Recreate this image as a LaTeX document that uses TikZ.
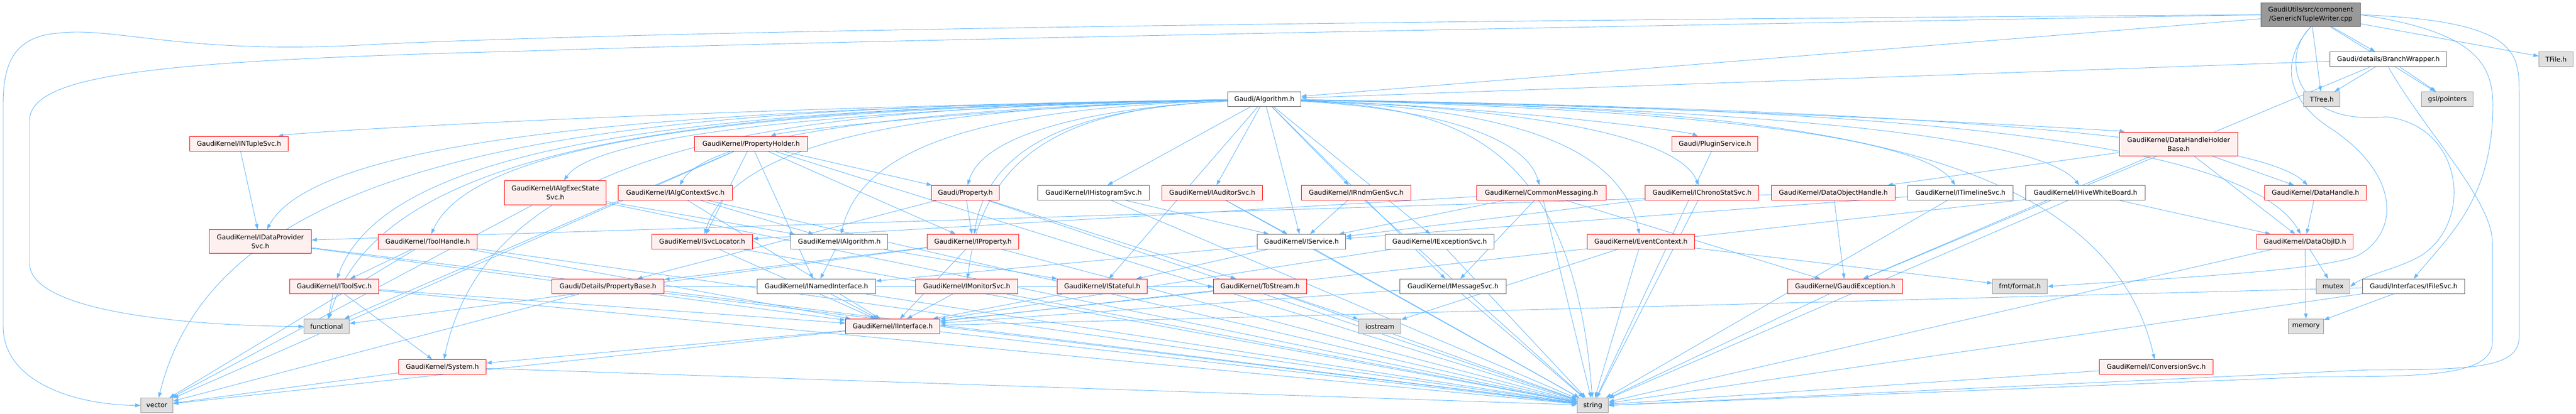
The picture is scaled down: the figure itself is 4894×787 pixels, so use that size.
\documentclass[tikz,border=0pt]{standalone}
\usepackage{fontspec}
\setmainfont{DejaVu Sans}
\usetikzlibrary{arrows.meta,calc}
\pgfdeclarelayer{bglayer}
\pgfdeclarelayer{edgelayer}
\pgfsetlayers{bglayer,edgelayer,main}
\definecolor{edgeblue}{HTML}{63B8FF}
\definecolor{redline}{HTML}{FF0000}
\definecolor{redfill}{HTML}{FFF0F0}
\definecolor{grayline}{HTML}{666666}
\definecolor{leafline}{HTML}{999999}
\definecolor{leaffill}{HTML}{E0E0E0}
\definecolor{topfill}{HTML}{999999}
\newcommand\mynd[6]{\node[#1, minimum width=#4pt, minimum height=#5pt] (#2) at (#3) {#6};}
\begin{document}
\begin{tikzpicture}[x=1pt,y=-1pt,
  base/.style={rectangle, line width=1.1pt, inner sep=0pt, anchor=north west, align=center,
    font=\fontsize{12.5}{17}\selectfont},
  rednode/.style={base, draw=redline, fill=redfill},
  graynode/.style={base, draw=grayline, fill=white},
  leafnode/.style={base, draw=leafline, fill=leaffill},
  topnode/.style={base, draw=grayline, fill=topfill},
  edge/.style={draw=edgeblue, line width=0.9pt, -{Triangle[length=10pt,width=7pt]}}]
\begin{pgfonlayer}{bglayer}
\fill[white] (0,0) rectangle (4894,787);
\end{pgfonlayer}
\useasboundingbox (0,0) rectangle (4894,787);
% rank 0-2
\mynd{topnode}{top}{4295,5}{189}{45}{GaudiUtils/src/component\\/GenericNTupleWriter.cpp}
\mynd{graynode}{bw}{4426,98}{222}{28}{Gaudi/details/BranchWrapper.h}
\mynd{leafnode}{tfile}{4823,98}{65}{28}{TFile.h}
\mynd{graynode}{algo}{2332,174}{139}{28}{Gaudi/Algorithm.h}
\mynd{leafnode}{ttree}{4376,174}{69}{28}{TTree.h}
\mynd{leafnode}{gsl}{4600,174}{98}{28}{gsl/pointers}
% rank 3
\mynd{rednode}{ntuple}{360,259}{187}{28}{GaudiKernel/INTupleSvc.h}
\mynd{rednode}{pholder}{1319,259}{215}{28}{GaudiKernel/PropertyHolder.h}
\mynd{rednode}{plugin}{3176,259}{163}{28}{Gaudi/PluginService.h}
\mynd{rednode}{dhhb}{4026,251}{225}{45}{GaudiKernel/DataHandleHolder\\Base.h}
% rank 4
\mynd{rednode}{execstate}{958,343}{193}{46}{GaudiKernel/IAlgExecState\\Svc.h}
\mynd{rednode}{algctx}{1174,352}{217}{28}{GaudiKernel/IAlgContextSvc.h}
\mynd{rednode}{prop}{1769,352}{129}{28}{Gaudi/Property.h}
\mynd{graynode}{histo}{1971,352}{212}{28}{GaudiKernel/IHistogramSvc.h}
\mynd{rednode}{auditor}{2207,352}{191}{28}{GaudiKernel/IAuditorSvc.h}
\mynd{rednode}{rndm}{2472,352}{208}{28}{GaudiKernel/IRndmGenSvc.h}
\mynd{rednode}{cmsg}{2805,352}{246}{28}{GaudiKernel/CommonMessaging.h}
\mynd{rednode}{chrono}{3125,352}{216}{28}{GaudiKernel/IChronoStatSvc.h}
\mynd{rednode}{doh}{3365,352}{235}{28}{GaudiKernel/DataObjectHandle.h}
\mynd{graynode}{timeline}{3624,352}{200}{28}{GaudiKernel/ITimelineSvc.h}
\mynd{graynode}{hive}{3848,352}{227}{28}{GaudiKernel/IHiveWhiteBoard.h}
\mynd{rednode}{dh}{4302,352}{193}{28}{GaudiKernel/DataHandle.h}
% rank 5
\mynd{rednode}{dps}{397,436}{194}{45}{GaudiKernel/IDataProvider\\Svc.h}
\mynd{rednode}{toolh}{718,445}{188}{28}{GaudiKernel/ToolHandle.h}
\mynd{rednode}{svcloc}{1238,445}{191}{28}{GaudiKernel/ISvcLocator.h}
\mynd{graynode}{ialg}{1502,445}{184}{28}{GaudiKernel/IAlgorithm.h}
\mynd{rednode}{iprop}{1761,445}{174}{28}{GaudiKernel/IProperty.h}
\mynd{graynode}{isvc}{2388,445}{168}{28}{GaudiKernel/IService.h}
\mynd{graynode}{iexc}{2631,445}{207}{28}{GaudiKernel/IExceptionSvc.h}
\mynd{rednode}{evctx}{3015,445}{204}{28}{GaudiKernel/EventContext.h}
\mynd{rednode}{doid}{4287,445}{183}{28}{GaudiKernel/DataObjID.h}
% rank 6
\mynd{rednode}{itool}{550,530}{169}{28}{GaudiKernel/IToolSvc.h}
\mynd{rednode}{pbase}{1048,530}{213}{28}{Gaudi/Details/PropertyBase.h}
\mynd{graynode}{inamed}{1438,530}{225}{28}{GaudiKernel/INamedInterface.h}
\mynd{rednode}{imon}{1739,530}{194}{28}{GaudiKernel/IMonitorSvc.h}
\mynd{rednode}{istate}{2008,530}{171}{28}{GaudiKernel/IStateful.h}
\mynd{rednode}{tostream}{2305,530}{177}{28}{GaudiKernel/ToStream.h}
\mynd{graynode}{imsg}{2659,530}{202}{28}{GaudiKernel/IMessageSvc.h}
\mynd{rednode}{gexc}{3396,530}{218}{28}{GaudiKernel/GaudiException.h}
\mynd{leafnode}{fmt}{3785,530}{104}{28}{fmt/format.h}
\mynd{leafnode}{mutex}{4400,530}{64}{28}{mutex}
\mynd{graynode}{ifile}{4488,530}{194}{28}{Gaudi/Interfaces/IFileSvc.h}
% rank 7
\mynd{leafnode}{functional}{577,606}{86}{28}{functional}
\mynd{rednode}{iint}{1606,606}{179}{28}{GaudiKernel/IInterface.h}
\mynd{leafnode}{iostream}{2581,606}{80}{28}{iostream}
\mynd{leafnode}{memory}{4347,606}{67}{28}{memory}
% rank 8
\mynd{rednode}{system}{757,683}{166}{28}{GaudiKernel/System.h}
\mynd{rednode}{iconv}{3988,683}{216}{28}{GaudiKernel/IConversionSvc.h}
% rank 9
\mynd{leafnode}{vector}{267,756}{61}{28}{vector}
\mynd{leafnode}{string}{2996,756}{59}{28}{string}
% routing points
\coordinate (wa) at (700,85);
\coordinate (wb) at (110,63);
\coordinate (wc) at (6,200);
\coordinate (wd) at (6,620);
\coordinate (wf1) at (1000,97);
\coordinate (wf2) at (56,230);
\coordinate (wf3) at (56,500);
\coordinate (wr1) at (4786,180);
\coordinate (wr2) at (4786,640);
\coordinate (wr3) at (4500,703);
\coordinate (wb1) at (4735,460);
\coordinate (wb2) at (4735,650);
\coordinate (wb3) at (4400,716);
\coordinate (wi1) at (4736,200);
\coordinate (wm1) at (4534,222);
\coordinate (wm2) at (4601,485);
\coordinate (wq1) at (4425,242);
\coordinate (wq2) at (4481,485);
\begin{pgfonlayer}{edgelayer}
\draw[edge] (top.west) .. controls (2500,40) and (1200,60) .. (wa) .. controls (350,105) and (220,50) .. (wb) .. controls (20,70) and (6,130) .. (wc) -- (wd) .. controls (6,730) and (150,770) .. (vector.west);
\draw[edge] (top.west) .. controls (2500,60) and (1500,80) .. (wf1) .. controls (300,115) and (56,140) .. (wf2) -- (wf3) .. controls (56,600) and (400,620) .. (functional.west);
\draw[edge] (top.east) .. controls (4786,40) and (4786,100) .. (wr1) -- (wr2) .. controls (4786,700) and (4700,703) .. (wr3) -- (string.east);
\draw[edge] (bw.south) .. controls (4600,240) and (4735,380) .. (wb1) -- (wb2) .. controls (4735,716) and (4600,716) .. (wb3) -- (string.east);
\draw[edge] (top.east) .. controls (4700,60) and (4736,120) .. (wi1) .. controls (4736,380) and (4650,450) .. (ifile.north);
\draw[edge] (top.south) .. controls (4330,110) and (4360,240) .. (wm1) .. controls (4680,240) and (4700,420) .. (wm2) .. controls (4560,510) and (4500,520) .. (mutex.east);
\draw[edge] (top.south) .. controls (4320,130) and (4360,200) .. (wq1) .. controls (4560,330) and (4560,440) .. (wq2) .. controls (4420,515) and (4100,530) .. (fmt.east);
% long edges from Gaudi/Algorithm.h: horizontal run, then bend down
\foreach \t in {ntuple, pholder, execstate, algctx, prop, dps, toolh, svcloc, ialg, iprop,
  itool, imon, system, vector, functional, plugin, dhhb, cmsg, chrono, timeline, hive, dh,
  evctx, iconv, doid, string}
  \draw[edge] let \p1=(algo.center), \p2=(\t.north) in
    (algo) .. controls (\x2+0.45*\x1-0.45*\x2, \y1-16pt) and (\x2+0.06*\x1-0.06*\x2, \y1-62pt) .. (\t);
\foreach \s/\t in {top/bw, top/ttree, top/gsl, top/tfile, top/algo,
  bw/ttree, bw/gsl, bw/algo, bw/gexc,
  algo/histo, algo/auditor, algo/rndm, algo/isvc, algo/iexc, algo/istate, algo/imsg,
  pholder/svcloc, pholder/inamed, pholder/iprop, pholder/prop, pholder/functional, pholder/vector, pholder/string,
  plugin/string,
  dhhb/doh, dhhb/dh, dhhb/doid, dhhb/gexc,
  execstate/ialg, execstate/string, execstate/vector,
  algctx/ialg, algctx/iint, algctx/string,
  prop/iprop, prop/pbase, prop/tostream, prop/string,
  histo/isvc, histo/string, auditor/isvc, auditor/string, rndm/isvc, rndm/string,
  cmsg/imsg, cmsg/isvc, cmsg/svcloc, cmsg/gexc, cmsg/string,
  chrono/isvc, chrono/string, doh/gexc, doh/dps,
  timeline/isvc, timeline/string, hive/doid, hive/iint, hive/string, dh/doid,
  doid/mutex, doid/memory, doid/string,
  dps/iint, dps/string, ntuple/dps,
  toolh/itool, toolh/vector, toolh/string, toolh/iint,
  svcloc/iint, svcloc/string, ialg/inamed, ialg/istate,
  iprop/iint, iprop/pbase, iprop/functional, iprop/string,
  isvc/istate, isvc/inamed, isvc/string, iexc/iint, iexc/string,
  evctx/fmt, evctx/iostream, evctx/string,
  itool/functional, itool/system, itool/string, itool/iint,
  pbase/tostream, pbase/string, pbase/vector,
  inamed/iint, inamed/string, imon/iint, imon/string, istate/iint,
  tostream/iostream, tostream/string, tostream/vector,
  imsg/iint, imsg/string, gexc/string,
  ifile/memory, ifile/string, ifile/iint,
  iint/system, iint/string, system/vector, system/string, iconv/string}
  \draw[edge] (\s) -- (\t);
\end{pgfonlayer}
\end{tikzpicture}
\end{document}
